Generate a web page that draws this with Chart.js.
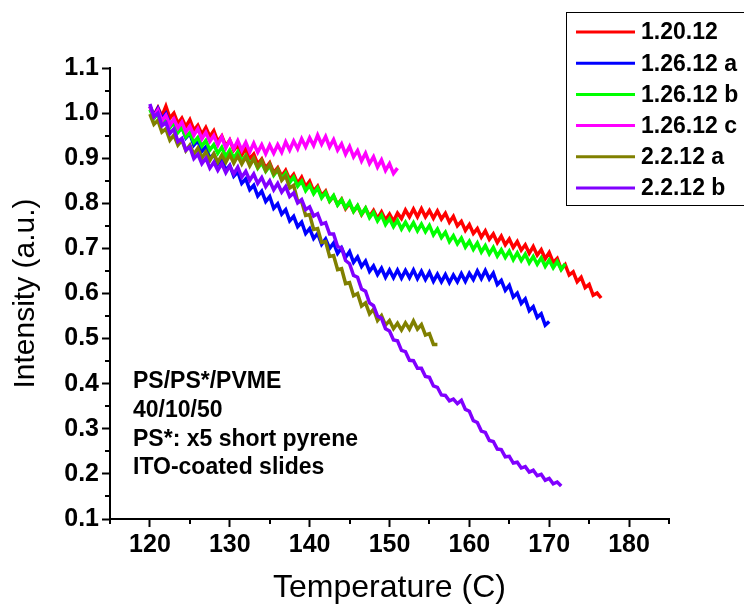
<!DOCTYPE html>
<html>
<head>
<meta charset="utf-8">
<script src="https://cdn.jsdelivr.net/npm/chart.js@4.4.0/dist/chart.umd.min.js"></script>
<style>
  html, body { margin: 0; padding: 0; background: #fff; }
  #wrap { width: 744px; height: 613px; position: relative; }
</style>
</head>
<body>
<div id="wrap"><canvas id="chart"></canvas></div>
<script>
// Temperature grid (C), shared by all runs
const TEMPS = [
  120, 120.5, 121, 121.5, 122, 122.5, 123, 123.5, 124, 124.5,
  125, 125.5, 126, 126.5, 127, 127.5, 128, 128.5, 129, 129.5,
  130, 130.5, 131, 131.5, 132, 132.5, 133, 133.5, 134, 134.5,
  135, 135.5, 136, 136.5, 137, 137.5, 138, 138.5, 139, 139.5,
  140, 140.5, 141, 141.5, 142, 142.5, 143, 143.5, 144, 144.5,
  145, 145.5, 146, 146.5, 147, 147.5, 148, 148.5, 149, 149.5,
  150, 150.5, 151, 151.5, 152, 152.5, 153, 153.5, 154, 154.5,
  155, 155.5, 156, 156.5, 157, 157.5, 158, 158.5, 159, 159.5,
  160, 160.5, 161, 161.5, 162, 162.5, 163, 163.5, 164, 164.5,
  165, 165.5, 166, 166.5, 167, 167.5, 168, 168.5, 169, 169.5,
  170, 170.5, 171, 171.5, 172, 172.5, 173, 173.5, 174, 174.5,
  175, 175.5, 176, 176.5
];

const RUN_LABELS = ["1.20.12", "1.26.12 a", "1.26.12 b", "1.26.12 c", "2.2.12 a", "2.2.12 b"];
const RUN_COLORS = ["#ff0000", "#0000ff", "#00ff00", "#ff00ff", "#808000", "#8000ff"];

const run_1_20_12 = [
  1.015, 0.995, 1.012, 0.993, 1.015, 0.989, 1.0, 0.977, 0.989, 0.97,
  0.985, 0.962, 0.973, 0.953, 0.968, 0.948, 0.961, 0.937, 0.949, 0.927,
  0.94, 0.918, 0.929, 0.907, 0.922, 0.899, 0.909, 0.887, 0.898, 0.878,
  0.89, 0.868, 0.879, 0.86, 0.873, 0.853, 0.864, 0.844, 0.858, 0.837,
  0.849, 0.827, 0.838, 0.817, 0.827, 0.805, 0.816, 0.797, 0.809, 0.788,
  0.8, 0.782, 0.794, 0.775, 0.789, 0.771, 0.784, 0.766, 0.781, 0.763,
  0.776, 0.76, 0.778, 0.766, 0.785, 0.77, 0.787, 0.77, 0.788, 0.77,
  0.784, 0.767, 0.783, 0.765, 0.778, 0.758, 0.771, 0.75, 0.76, 0.74,
  0.753, 0.733, 0.744, 0.725, 0.739, 0.72, 0.732, 0.713, 0.727, 0.708,
  0.721, 0.702, 0.715, 0.696, 0.708, 0.689, 0.704, 0.685, 0.697, 0.677,
  0.691, 0.669, 0.678, 0.654, 0.664, 0.641, 0.648, 0.626, 0.636, 0.613,
  0.62, 0.596, 0.601, 0.59
];

const run_1_26_12_a = [
  1.015, 0.994, 1.01, 0.987, 0.999, 0.975, 0.985, 0.959, 0.969, 0.945,
  0.955, 0.929, 0.939, 0.915, 0.925, 0.899, 0.909, 0.887, 0.898, 0.873,
  0.884, 0.86, 0.87, 0.844, 0.854, 0.83, 0.84, 0.816, 0.827, 0.804,
  0.815, 0.789, 0.799, 0.776, 0.786, 0.761, 0.771, 0.748, 0.758, 0.733,
  0.744, 0.722, 0.733, 0.709, 0.721, 0.7, 0.712, 0.689, 0.701, 0.68,
  0.693, 0.669, 0.681, 0.66, 0.672, 0.649, 0.661, 0.642, 0.656, 0.636,
  0.652, 0.635, 0.652, 0.634, 0.651, 0.635, 0.652, 0.633, 0.649, 0.631,
  0.647, 0.627, 0.643, 0.626, 0.642, 0.624, 0.641, 0.626, 0.644, 0.627,
  0.645, 0.631, 0.65, 0.633, 0.651, 0.632, 0.645, 0.62, 0.629, 0.607,
  0.618, 0.592, 0.601, 0.578, 0.588, 0.562, 0.571, 0.547, 0.555, 0.53,
  0.538
];

const run_1_26_12_b = [
  1.008, 0.988, 0.999, 0.977, 0.988, 0.968, 0.979, 0.957, 0.968, 0.947,
  0.957, 0.935, 0.946, 0.927, 0.939, 0.918, 0.93, 0.911, 0.924, 0.904,
  0.918, 0.9, 0.914, 0.893, 0.906, 0.887, 0.899, 0.878, 0.89, 0.871,
  0.883, 0.862, 0.874, 0.855, 0.867, 0.846, 0.858, 0.838, 0.849, 0.828,
  0.84, 0.821, 0.834, 0.812, 0.824, 0.805, 0.817, 0.796, 0.808, 0.79,
  0.803, 0.782, 0.795, 0.776, 0.789, 0.768, 0.78, 0.761, 0.774, 0.753,
  0.766, 0.748, 0.762, 0.743, 0.758, 0.742, 0.757, 0.739, 0.754, 0.737,
  0.751, 0.73, 0.743, 0.724, 0.736, 0.715, 0.728, 0.71, 0.723, 0.703,
  0.716, 0.698, 0.712, 0.692, 0.706, 0.688, 0.702, 0.683, 0.697, 0.68,
  0.694, 0.675, 0.69, 0.673, 0.687, 0.668, 0.682, 0.665, 0.679, 0.66,
  0.674, 0.657, 0.671, 0.653, 0.666
];

const run_1_26_12_c = [
  1.015, 0.992, 1.007, 0.983, 0.995, 0.973, 0.987, 0.967, 0.98, 0.958,
  0.971, 0.951, 0.965, 0.943, 0.957, 0.937, 0.95, 0.929, 0.947, 0.923,
  0.94, 0.921, 0.939, 0.918, 0.935, 0.914, 0.933, 0.913, 0.93, 0.91,
  0.929, 0.911, 0.93, 0.913, 0.936, 0.918, 0.938, 0.921, 0.943, 0.925,
  0.945, 0.928, 0.951, 0.931, 0.948, 0.925, 0.941, 0.918, 0.932, 0.909,
  0.926, 0.903, 0.917, 0.894, 0.911, 0.888, 0.903, 0.88, 0.896, 0.873,
  0.888, 0.866, 0.878
];

const run_2_2_12_a = [
  0.998, 0.975, 0.984, 0.958, 0.965, 0.94, 0.951, 0.929, 0.94, 0.917,
  0.929, 0.909, 0.922, 0.9, 0.914, 0.895, 0.91, 0.891, 0.907, 0.891,
  0.908, 0.889, 0.905, 0.887, 0.903, 0.883, 0.899, 0.88, 0.895, 0.873,
  0.887, 0.865, 0.876, 0.851, 0.861, 0.834, 0.84, 0.804, 0.804, 0.773,
  0.775, 0.742, 0.744, 0.713, 0.715, 0.682, 0.684, 0.653, 0.655, 0.622,
  0.624, 0.595, 0.6, 0.572, 0.579, 0.555, 0.565, 0.54, 0.551, 0.53,
  0.54, 0.522, 0.534, 0.519, 0.535, 0.521, 0.539, 0.521, 0.531, 0.508,
  0.511, 0.487, 0.487
];

const run_2_2_12_b = [
  1.02, 0.992, 1.0, 0.972, 0.979, 0.955, 0.965, 0.937, 0.944, 0.918,
  0.925, 0.899, 0.909, 0.888, 0.9, 0.878, 0.891, 0.873, 0.888, 0.868,
  0.883, 0.865, 0.88, 0.858, 0.871, 0.851, 0.865, 0.844, 0.857, 0.837,
  0.85, 0.83, 0.844, 0.825, 0.837, 0.815, 0.823, 0.801, 0.808, 0.786,
  0.792, 0.772, 0.777, 0.754, 0.757, 0.732, 0.732, 0.704, 0.701, 0.673,
  0.666, 0.64, 0.636, 0.61, 0.605, 0.579, 0.573, 0.55, 0.545, 0.522,
  0.517, 0.497, 0.495, 0.474, 0.471, 0.452, 0.451, 0.434, 0.434, 0.416,
  0.414, 0.395, 0.392, 0.375, 0.374, 0.362, 0.366, 0.356, 0.363, 0.343,
  0.339, 0.318, 0.314, 0.295, 0.292, 0.274, 0.272, 0.255, 0.254, 0.238,
  0.239, 0.224, 0.226, 0.213, 0.216, 0.204, 0.208, 0.196, 0.199, 0.186,
  0.19, 0.178, 0.182, 0.173
];

const RUNS = [run_1_20_12, run_1_26_12_a, run_1_26_12_b, run_1_26_12_c, run_2_2_12_a, run_2_2_12_b];

const NOTE_LINES = ["PS/PS*/PVME", "40/10/50", "PS*: x5 short pyrene", "ITO-coated slides"];

const FONT = "'Liberation Sans', Arial, sans-serif";
const NARROW = "'Liberation Sans Narrow', 'Arial Narrow', 'Liberation Sans', sans-serif";

function toPoints(vals) {
  return vals.map((v, i) => ({ x: TEMPS[i], y: v }));
}

function isMajorX(v) { return Math.round(v) % 10 === 0; }
function isMajorY(v) { return Math.round(v * 100) % 10 === 0; }

// minor ticks, legend box and the text note
const extrasPlugin = {
  id: "extras",
  afterDraw(chart) {
    const ctx = chart.ctx;
    const xs = chart.scales.x;
    const ys = chart.scales.y;
    ctx.save();
    ctx.strokeStyle = "#000";
    ctx.lineWidth = 2;
    xs.ticks.forEach((t) => {
      if (isMajorX(t.value)) return;
      const px = Math.round(xs.getPixelForValue(t.value));
      ctx.beginPath();
      ctx.moveTo(px, ys.bottom);
      ctx.lineTo(px, ys.bottom + 5);
      ctx.stroke();
    });
    ys.ticks.forEach((t) => {
      if (isMajorY(t.value)) return;
      const py = Math.round(ys.getPixelForValue(t.value));
      ctx.beginPath();
      ctx.moveTo(xs.left, py);
      ctx.lineTo(xs.left - 5, py);
      ctx.stroke();
    });

    // legend
    ctx.lineWidth = 1;
    ctx.strokeRect(566.5, 12.5, 190, 193);
    ctx.font = "bold 23px " + FONT;
    ctx.textBaseline = "middle";
    ctx.fillStyle = "#000";
    RUN_LABELS.forEach((lab, i) => {
      const y = 32 + i * 31.2;
      ctx.strokeStyle = RUN_COLORS[i];
      ctx.lineWidth = 3;
      ctx.beginPath();
      ctx.moveTo(576, y);
      ctx.lineTo(635, y);
      ctx.stroke();
      ctx.fillText(lab, 641, y + 1);
    });

    // note
    ctx.font = "bold 23px " + FONT;
    NOTE_LINES.forEach((line, i) => {
      ctx.fillText(line, 133, 382 + i * 28.7);
    });
    ctx.restore();
  },
};

const datasets = RUNS.map((vals, i) => ({
  label: RUN_LABELS[i],
  data: toPoints(vals),
  borderColor: RUN_COLORS[i],
  backgroundColor: RUN_COLORS[i],
  borderWidth: 3.5,
  pointRadius: 0,
  tension: 0,
  order: RUNS.length - i,
}));

new Chart(document.getElementById("chart"), {
  type: "line",
  data: { datasets },
  plugins: [extrasPlugin],
  options: {
    responsive: true,
    maintainAspectRatio: false,
    animation: false,
    layout: { padding: { top: 68, right: 75, left: 0, bottom: 0 } },
    plugins: {
      legend: { display: false },
      tooltip: { enabled: false },
    },
    scales: {
      x: {
        type: "linear",
        min: 115,
        max: 185,
        afterFit: (s) => { s.height = 94; },
        border: { display: true, color: "#000", width: 2 },
        grid: {
          display: true,
          drawOnChartArea: false,
          drawTicks: true,
          tickLength: 8,
          tickWidth: 2,
          tickColor: (c) => (c.tick && isMajorX(c.tick.value) ? "#000" : "rgba(0,0,0,0)"),
        },
        ticks: {
          stepSize: 5,
          autoSkip: false,
          maxRotation: 0,
          padding: 3,
          color: "#000",
          font: { family: NARROW, size: 25, weight: "bold" },
          callback: (v) => (isMajorX(v) ? String(v) : ""),
        },
        title: {
          display: true,
          text: "Temperature (C)",
          color: "#000",
          font: { family: FONT, size: 32 },
          padding: { top: 0, bottom: 6 },
        },
      },
      y: {
        min: 0.1,
        max: 1.1,
        afterFit: (s) => { s.width = 110; },
        border: { display: true, color: "#000", width: 2 },
        grid: {
          display: true,
          drawOnChartArea: false,
          drawTicks: true,
          tickLength: 8,
          tickWidth: 2,
          tickColor: (c) => (c.tick && isMajorY(c.tick.value) ? "#000" : "rgba(0,0,0,0)"),
        },
        ticks: {
          stepSize: 0.05,
          autoSkip: false,
          padding: 3,
          color: "#000",
          font: { family: FONT, size: 25, weight: "bold" },
          callback: (v) => (isMajorY(v) ? v.toFixed(1) : ""),
        },
        title: {
          display: true,
          text: "Intensity (a.u.)",
          color: "#000",
          font: { family: FONT, size: 30 },
          padding: { top: 8, bottom: 0 },
        },
      },
    },
  },
});
</script>
</body>
</html>
